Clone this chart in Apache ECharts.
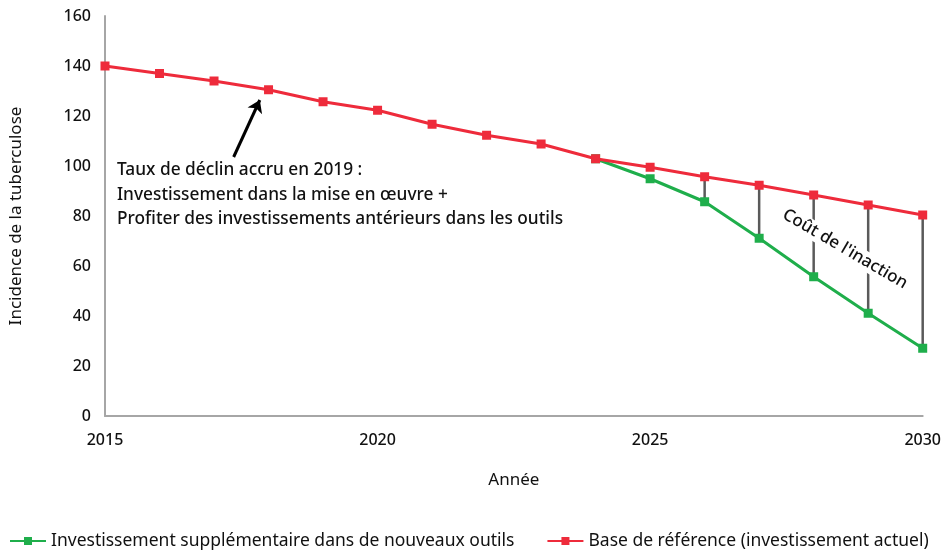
<!DOCTYPE html>
<html lang="fr">
<head>
<meta charset="UTF-8">
<title>Incidence de la tuberculose</title>
<script src="https://cdn.jsdelivr.net/npm/echarts@6/dist/echarts.min.js"></script>
<style>
  html, body { margin: 0; padding: 0; background: #fff; }
  #chart { width: 944px; height: 556px; }
</style>
</head>
<body>
<div id="chart"></div>
<script>
// données
var annees = [2015, 2016, 2017, 2018, 2019, 2020, 2021, 2022, 2023, 2024, 2025, 2026, 2027, 2028, 2029, 2030];
var baseRef = [140, 137, 134, 130.5, 125.7, 122.3, 116.7, 112.3, 108.8, 102.9, 99.5, 95.7, 92.3, 88.4, 84.4, 80.4];
var anneesNouv = [2024, 2025, 2026, 2027, 2028, 2029, 2030];
var nouveauxOutils = [102.9, 94.9, 85.7, 71.1, 55.7, 41.1, 27.1];
// écarts "coût de l'inaction"
var anneesEcart = [2026, 2027, 2028, 2029, 2030];
var yTicks = [0, 20, 40, 60, 80, 100, 120, 140, 160];
var xTicks = [2015, 2020, 2025, 2030];

var rouge = '#ee2b3b';
var vert = '#1fae4b';
var police = '"Noto Sans", sans-serif';

function paires(xs, ys) {
  var out = [];
  for (var i = 0; i < xs.length; i++) out.push([xs[i], ys[i]]);
  return out;
}

var ecarts = [];
for (var i = 0; i < anneesEcart.length; i++) {
  var a = anneesEcart[i];
  ecarts.push([a, baseRef[annees.indexOf(a)], nouveauxOutils[anneesNouv.indexOf(a)]]);
}

var chart = echarts.init(document.getElementById('chart'));
chart.setOption({
  animation: false,
  textStyle: { fontFamily: police },
  grid: { left: 104, right: 20, top: 16, bottom: 140 },
  xAxis: {
    type: 'value',
    min: 2015, max: 2030, interval: 5,
    name: 'Année',
    nameLocation: 'middle',
    nameGap: 56,
    nameTextStyle: { color: '#111', fontSize: 17, fontFamily: police },
    axisLine: { lineStyle: { color: '#a6a6a6', width: 2 } },
    axisTick: { show: false },
    splitLine: { show: false },
    axisLabel: { color: '#111', fontSize: 16, fontWeight: 500, margin: 16,
      formatter: function (v) { return xTicks.indexOf(v) >= 0 ? String(v) : ''; } }
  },
  yAxis: {
    type: 'value',
    min: 0, max: 160, interval: 20,
    name: 'Incidence de la tuberculose',
    nameLocation: 'middle',
    nameGap: 80,
    nameTextStyle: { color: '#111', fontSize: 17, fontFamily: police },
    axisLine: { show: true, lineStyle: { color: '#a6a6a6', width: 2 } },
    axisTick: { show: false },
    splitLine: { show: false },
    axisLabel: { color: '#111', fontSize: 16, fontWeight: 500, margin: 14,
      formatter: function (v) { return yTicks.indexOf(v) >= 0 ? String(v) : ''; } }
  },
  legend: {
    bottom: 1,
    left: 4,
    itemWidth: 36,
    itemHeight: 10,
    itemGap: 32,
    data: ['Investissement supplémentaire dans de nouveaux outils', 'Base de référence (investissement actuel)'],
    textStyle: { color: '#111', fontSize: 17.5, fontFamily: police }
  },
  graphic: [
    {
      type: 'text', left: 117, top: 158,
      style: {
        text: 'Taux de déclin accru en 2019 :\nInvestissement dans la mise en œuvre +\nProfiter des investissements antérieurs dans les outils',
        fill: '#111', font: '500 17.3px ' + police, lineHeight: 24.5
      }
    },
    {
      type: 'text', x: 845, y: 249, rotation: -0.53,
      style: {
        text: "Coût de l'inaction", fill: '#111', font: '500 17px ' + police,
        align: 'center', verticalAlign: 'middle',
        backgroundColor: '#fff', padding: [1, 2]
      },
      z: 100
    }
  ],
  series: [
    {
      type: 'custom',
      name: 'ecart',
      z: 1,
      silent: true,
      data: ecarts,
      renderItem: function (params, api) {
        var p1 = api.coord([api.value(0), api.value(1)]);
        var p2 = api.coord([api.value(0), api.value(2)]);
        return {
          type: 'line',
          shape: { x1: p1[0], y1: p1[1], x2: p2[0], y2: p2[1] },
          style: { stroke: '#5a5a5a', lineWidth: 2.5 }
        };
      }
    },
    {
      name: 'Investissement supplémentaire dans de nouveaux outils',
      type: 'line',
      z: 3,
      data: paires(anneesNouv, nouveauxOutils),
      symbol: 'rect', symbolSize: 9,
      itemStyle: { color: vert },
      lineStyle: { color: vert, width: 3 }
    },
    {
      name: 'Base de référence (investissement actuel)',
      type: 'line',
      z: 4,
      data: paires(annees, baseRef),
      symbol: 'rect', symbolSize: 9,
      itemStyle: { color: rouge },
      lineStyle: { color: rouge, width: 3 },
      markLine: {
        silent: true,
        symbol: ['none', 'arrow'],
        symbolSize: 12,
        label: { show: false },
        lineStyle: { color: '#000', width: 3, type: 'solid' },
        data: [[{ coord: [2017.36, 103.6] }, { coord: [2017.84, 126.4] }]]
      }
    }
  ]
});
</script>
</body>
</html>
